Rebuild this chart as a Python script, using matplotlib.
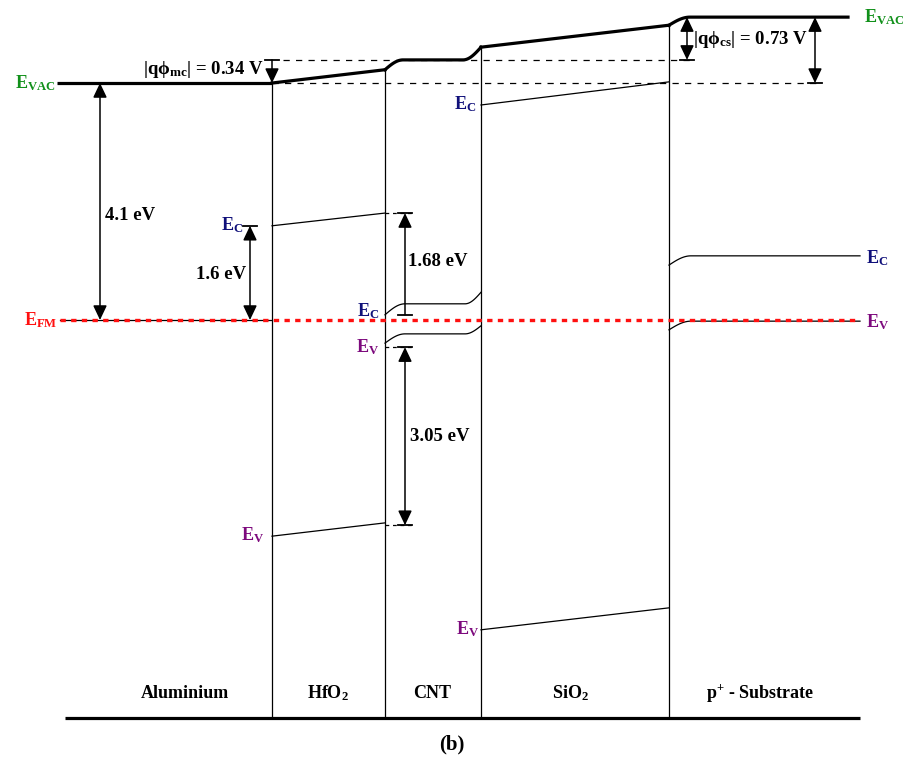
import numpy as np
import matplotlib
matplotlib.use("Agg")
import matplotlib.pyplot as plt

plt.rcParams['font.family'] = ['Liberation Serif', 'DejaVu Serif']
plt.rcParams['font.weight'] = 'bold'
plt.rcParams['mathtext.fontset'] = 'custom'
plt.rcParams['mathtext.rm'] = 'Liberation Serif:bold'
plt.rcParams['mathtext.it'] = 'Liberation Serif:bold'
plt.rcParams['mathtext.bf'] = 'Liberation Serif:bold'
plt.rcParams['mathtext.sf'] = 'Liberation Serif:bold'
plt.rcParams['mathtext.default'] = 'regular'

# ---------------- data (energies in eV, metal Fermi level = 0) ----------------
layer_names = ['Aluminium', 'HfO$_\\mathregular{2}$', 'CNT', 'SiO$_\\mathregular{2}$',
               'p$^\\mathregular{+}$ - Substrate']
evac_al = 4.10
evac_hfo2 = [4.10, 4.33]
evac_cnt = [4.33, 4.50, 4.72]          # start, flat, end
evac_sio2 = [4.72, 5.10]
evac_sub = [5.10, 5.24]
ec_hfo2 = [1.63, 1.85]
ev_hfo2 = [-3.74, -3.51]
ec_cnt = [0.09, 0.28, 0.48]
ev_cnt = [-0.40, -0.24, -0.10]
ec_sio2 = [3.72, 4.12]
ev_sio2 = [-5.36, -4.98]
ec_sub = [0.95, 1.11]
ev_sub = [-0.17, -0.02]
e_fm = 0.0
ref_mc = 4.50                           # dashed reference levels
gap_168 = [1.85, 0.09]
gap_305 = [-0.47, -3.55]
base_level = -6.89
labels_val = {'4.1': '4.1 eV', '1.6': '1.6 eV', '1.68': '1.68 eV', '3.05': '3.05 eV',
              'mc': '|q\u03d5$_\\mathregular{mc}$| = 0.34 V',
              'cs': '|q\u03d5$_\\mathregular{cs}$| = 0.73 V'}

# ---------------- layout ----------------
PX_PER_EV = 57.8
Y0PX = 320
ytop = Y0PX / PX_PER_EV
ybot = (Y0PX - 759) / PX_PER_EV
xi = [272, 385, 481, 669]   # interfaces

GREEN = '#11901a'
NAVY = '#10107a'
PURPLE = '#7d0a7d'
RED = '#ff1010'

fig = plt.figure(figsize=(9.04, 7.59), dpi=100)
ax = fig.add_axes([0, 0, 1, 1])
ax.set_xlim(0, 904)
ax.set_ylim(ybot, ytop)
ax.axis('off')


def bend_out(x0, x1, y0, y1, n=40):
    t = np.linspace(0, 1, n)
    return x0 + (x1 - x0) * t, y0 + (y1 - y0) * np.sin(np.pi / 2 * t)


def bend_in(x0, x1, y0, y1, n=40):
    t = np.linspace(0, 1, n)
    return x0 + (x1 - x0) * t, y0 + (y1 - y0) * (1 - np.cos(np.pi / 2 * t))


THICK = 2.3
THIN = 0.9

# vacuum level
ax.plot([57, xi[0]], [evac_al, evac_al], color='k', lw=THICK, solid_capstyle='butt')
ax.plot([xi[0], xi[1]], evac_hfo2, color='k', lw=THICK)
bx, by = bend_out(xi[1], xi[1] + 18, evac_cnt[0], evac_cnt[1])
cx, cy = bend_in(xi[2] - 18, xi[2], evac_cnt[1], evac_cnt[2])
ax.plot(np.r_[bx, cx], np.r_[by, cy], color='k', lw=THICK)
ax.plot([xi[2], xi[3]], evac_sio2, color='k', lw=THICK)
sx, sy = bend_out(xi[3], xi[3] + 21, evac_sub[0], evac_sub[1])
ax.plot(np.r_[sx, 848], np.r_[sy, evac_sub[1]], color='k', lw=THICK)

# interfaces
ax.plot([xi[0], xi[0]], [evac_al, base_level], color='k', lw=THIN)
ax.plot([xi[1], xi[1]], [evac_hfo2[1], base_level], color='k', lw=THIN)
ax.plot([xi[2], xi[2]], [evac_cnt[2], base_level], color='k', lw=THIN)
ax.plot([xi[3], xi[3]], [evac_sio2[1], base_level], color='k', lw=THIN)
ax.plot([65, 860], [base_level, base_level], color='k', lw=THICK, solid_capstyle='butt')

# dashed reference lines
ax.plot([283, 690], [ref_mc, ref_mc], color='k', lw=THIN, ls=(0, (5, 5)))
ax.plot([xi[0], 817], [evac_al, evac_al], color='k', lw=THIN, ls=(0, (5, 5)))

# HfO2 bands
ax.plot([xi[0], xi[1]], ec_hfo2, color='k', lw=THIN)
ax.plot([xi[0], xi[1]], ev_hfo2, color='k', lw=THIN)
# CNT bands
for lev in (ec_cnt, ev_cnt):
    ax_, ay_ = bend_out(xi[1], xi[1] + 20, lev[0], lev[1])
    bx_, by_ = bend_in(xi[2] - 16, xi[2], lev[1], lev[2])
    ax.plot(np.r_[ax_, bx_], np.r_[ay_, by_], color='k', lw=THIN)
# SiO2 bands
ax.plot([xi[2], xi[3]], ec_sio2, color='k', lw=THIN)
ax.plot([xi[2], xi[3]], ev_sio2, color='k', lw=THIN)
# Substrate bands
for lev in (ec_sub, ev_sub):
    sx_, sy_ = bend_out(xi[3], xi[3] + 22, lev[0], lev[1])
    ax.plot(np.r_[sx_, 860], np.r_[sy_, lev[1]], color='k', lw=THIN)

# metal Fermi level
ax.plot([60, xi[0]], [e_fm, e_fm], color='k', lw=THIN)
ax.plot([60, 860], [e_fm, e_fm], color=RED, lw=2.4, ls=(0, (1.6, 1.6)), zorder=5)

# dashed short lines at CNT gap arrows
for lev in (gap_168[0], gap_305[0], gap_305[1]):
    ax.plot([xi[1], 412], [lev, lev], color='k', lw=THIN, ls=(0, (3, 3)))


def arrow(x, y0, y1, style='<|-|>', bars=()):
    ax.annotate('', xy=(x, y1), xytext=(x, y0),
                arrowprops=dict(arrowstyle=style + ',head_length=0.8,head_width=0.38',
                                lw=1.1, color='k', mutation_scale=11,
                                shrinkA=0, shrinkB=0))
    for b in bars:
        ax.plot([x - 7, x + 7], [b, b], color='k', lw=1.3)


arrow(100, e_fm, evac_al)
arrow(250, e_fm, ec_hfo2[0], bars=(ec_hfo2[0],))
arrow(405, gap_168[1], gap_168[0], style='-|>', bars=gap_168)
arrow(405, gap_305[1], gap_305[0], bars=gap_305)
arrow(xi[0], ref_mc, evac_al, style='-|>', bars=(ref_mc,))
arrow(687, ref_mc, evac_sub[1], bars=(ref_mc,))
arrow(815, evac_al, evac_sub[1], bars=(evac_al,))

FS = 13.5


def Y(px):
    return (Y0PX - px) / PX_PER_EV


# value labels
ax.text(105, Y(215), labels_val['4.1'], fontsize=FS, ha='left', va='center')
ax.text(246, Y(275), labels_val['1.6'], fontsize=FS, ha='right', va='center')
ax.text(408, Y(262), labels_val['1.68'], fontsize=FS, ha='left', va='center')
ax.text(410, Y(437), labels_val['3.05'], fontsize=FS, ha='left', va='center')
ax.text(264, Y(70), labels_val['mc'], fontsize=FS, ha='right', va='center')
ax.text(693, Y(40), labels_val['cs'], fontsize=FS, ha='left', va='center')

# band labels
LF = 13
ax.text(55, evac_al, 'E$_\\mathregular{VAC}$', color=GREEN, fontsize=LF, ha='right', va='center')
ax.text(864, evac_sub[1], 'E$_\\mathregular{VAC}$', color=GREEN, fontsize=LF, ha='left', va='center')
ax.text(57, e_fm, 'E$_\\mathregular{FM}$', color=RED, fontsize=LF, ha='right', va='center')
ax.text(243, Y(225), 'E$_\\mathregular{C}$', color=NAVY, fontsize=LF, ha='right', va='center')
ax.text(264, Y(535), 'E$_\\mathregular{V}$', color=PURPLE, fontsize=LF, ha='right', va='center')
ax.text(379, Y(311), 'E$_\\mathregular{C}$', color=NAVY, fontsize=LF, ha='right', va='center')
ax.text(379, Y(347), 'E$_\\mathregular{V}$', color=PURPLE, fontsize=LF, ha='right', va='center')
ax.text(476, Y(104), 'E$_\\mathregular{C}$', color=NAVY, fontsize=LF, ha='right', va='center')
ax.text(479, Y(629), 'E$_\\mathregular{V}$', color=PURPLE, fontsize=LF, ha='right', va='center')
ax.text(866, Y(258), 'E$_\\mathregular{C}$', color=NAVY, fontsize=LF, ha='left', va='center')
ax.text(866, Y(322), 'E$_\\mathregular{V}$', color=PURPLE, fontsize=LF, ha='left', va='center')

# layer names
layer_x = [185, 328, 432, 570, 760]
for name, x in zip(layer_names, layer_x):
    ax.text(x, Y(693), name, fontsize=13, ha='center', va='center')
ax.text(452, Y(744), '(b)', fontsize=15, ha='center', va='center')

fig.savefig('out.png', dpi=100)
